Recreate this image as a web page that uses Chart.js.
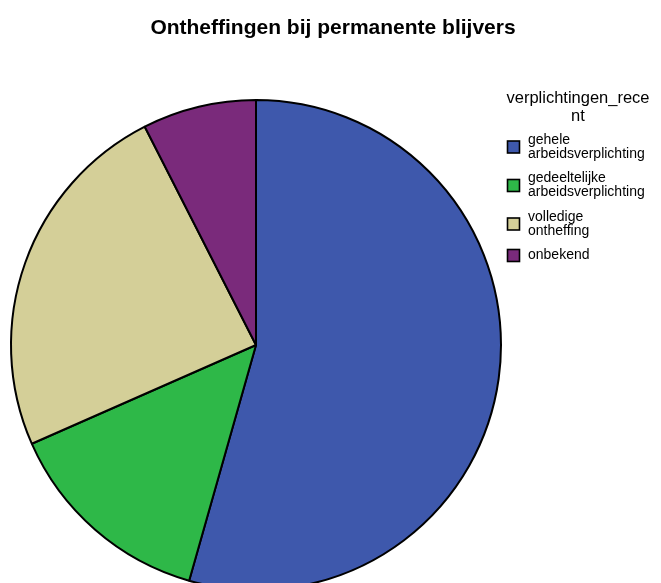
<!DOCTYPE html>
<html>
<head>
<meta charset="utf-8">
<script src="https://cdn.jsdelivr.net/npm/chart.js@4"></script>
<style>
  html, body { margin: 0; padding: 0; background: #fff; overflow: hidden; }
  #wrap { position: relative; width: 661px; height: 583px; }
</style>
</head>
<body>
<div id="wrap"><canvas id="c"></canvas></div>
<script>
// ---- data ----
const chartTitle = 'Ontheffingen bij permanente blijvers';
const legendTitleLines = ['verplichtingen_rece', 'nt'];
const categories = ['gehele arbeidsverplichting', 'gedeeltelijke arbeidsverplichting', 'volledige ontheffing', 'onbekend'];
const percentages = [54.4, 14.0, 24.1, 7.5];
const sliceColors = ['#3e58ac', '#2eb848', '#d4cf98', '#7a2a7b'];

const sideText = {
  id: 'sideText',
  afterDraw(chart) {
    const ctx = chart.ctx;
    ctx.save();
    ctx.fillStyle = '#000';
    // main title
    ctx.font = 'bold 21px "Liberation Sans", Arial, sans-serif';
    ctx.textAlign = 'center';
    ctx.textBaseline = 'alphabetic';
    ctx.fillText(chartTitle, 333, 34);
    // legend title
    ctx.font = '16.5px "Liberation Sans", Arial, sans-serif';
    legendTitleLines.forEach((t, i) => ctx.fillText(t, 578, 103 + i * 17.5));
    // legend items
    ctx.font = '14px "Liberation Sans", Arial, sans-serif';
    ctx.textAlign = 'left';
    ctx.textBaseline = 'middle';
    const lh = 14, gap = 10.5;
    let top = 133;
    categories.forEach((label, i) => {
      const lines = label.split(' ');
      const h = lines.length * lh;
      const cy = top + h / 2;
      ctx.fillStyle = sliceColors[i];
      ctx.fillRect(507.5, cy - 6, 12, 12);
      ctx.strokeStyle = '#000';
      ctx.lineWidth = 1.6;
      ctx.strokeRect(507.5, cy - 6, 12, 12);
      ctx.fillStyle = '#000';
      lines.forEach((ln, j) => ctx.fillText(ln, 528, top + lh / 2 + j * lh));
      top += h + gap;
    });
    ctx.restore();
  }
};

new Chart(document.getElementById('c'), {
  type: 'pie',
  data: {
    labels: categories,
    datasets: [{
      data: percentages,
      backgroundColor: sliceColors,
      borderColor: '#000',
      borderWidth: 2,
      clip: false
    }]
  },
  options: {
    responsive: true,
    maintainAspectRatio: false,
    animation: false,
    radius: 245,
    layout: { padding: { left: 11, right: 160, top: 110, bottom: 3 } },
    plugins: {
      legend: { display: false },
      title: { display: false },
      tooltip: { enabled: false }
    }
  },
  plugins: [sideText]
});
</script>
</body>
</html>
